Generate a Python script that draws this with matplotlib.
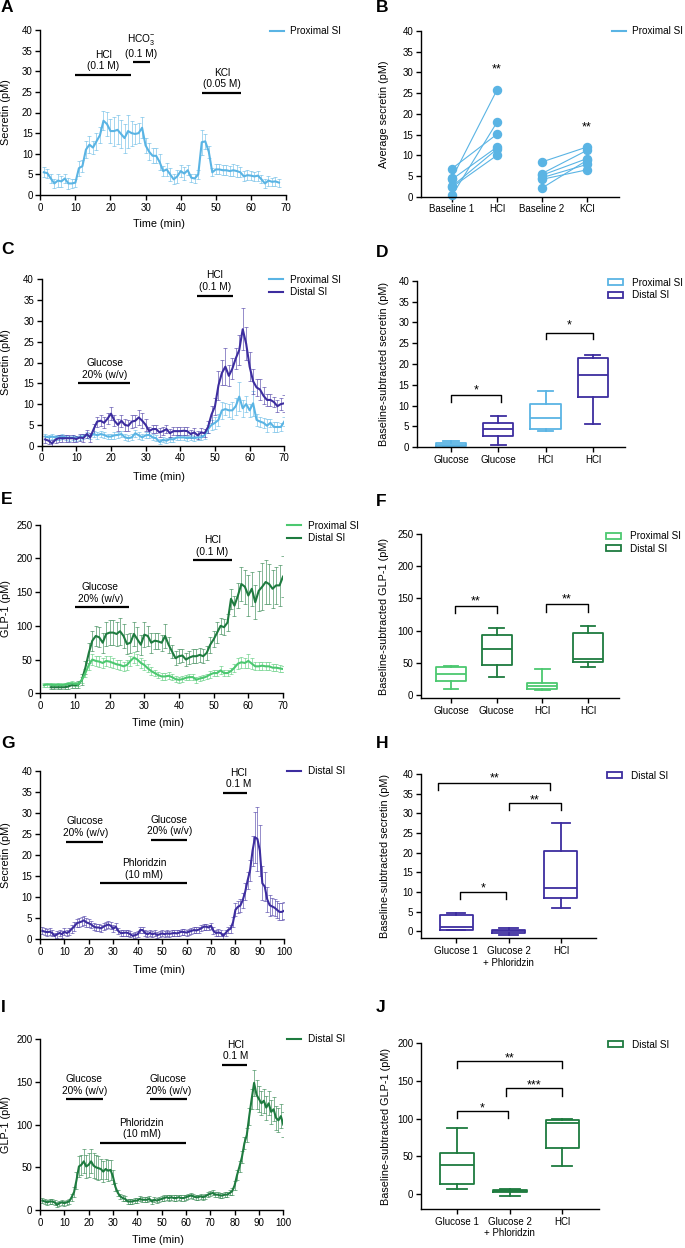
import numpy as np
import matplotlib
matplotlib.use("Agg")
import matplotlib.pyplot as plt
from matplotlib.lines import Line2D
from matplotlib.patches import Patch
from matplotlib.colors import to_rgba
from matplotlib.transforms import blended_transform_factory

plt.rcParams['font.family'] = ['Liberation Sans', 'DejaVu Sans']
plt.rcParams['mathtext.fontset'] = 'custom'
plt.rcParams['mathtext.rm'] = 'Liberation Sans'
plt.rcParams['mathtext.it'] = 'Liberation Sans:italic'
plt.rcParams['mathtext.bf'] = 'Liberation Sans:bold'
plt.rcParams['axes.linewidth'] = 1.0

# ---------------- DATA ----------------
# Panel A: proximal SI secretin, time 1..68 min
A_time = np.arange(1, 69)
A_prox = [5.5, 5.3, 4.0, 2.8, 3.5, 3.3, 4.0, 2.8, 2.8, 3.0,
          6.5, 7.0, 11.0, 12.2, 11.5, 13.0, 14.5, 18.0, 17.2, 15.5,
          15.5, 15.8, 14.8, 13.8, 15.5, 15.0, 14.8, 15.0, 16.3, 12.0,
          10.5, 9.5, 9.5, 8.0, 5.8, 6.2, 5.0, 3.8, 4.5, 5.8,
          5.2, 6.0, 4.2, 4.0, 5.0, 12.8, 13.0, 10.5, 5.5, 6.2,
          6.2, 6.0, 6.0, 5.8, 6.0, 5.8, 5.5, 4.5, 4.8, 4.7,
          4.5, 4.7, 3.8, 2.8, 3.5, 3.2, 3.3, 3.0]
A_prox_err = [1.2, 1.1, 1.0, 1.2, 1.5, 1.3, 1.0, 1.3, 1.2, 1.0,
              1.8, 1.5, 2.0, 2.0, 1.5, 2.0, 2.0, 2.3, 3.0, 3.0,
              3.5, 3.5, 3.5, 3.5, 4.0, 3.0, 2.5, 2.5, 2.5, 1.8,
              2.0, 1.8, 1.8, 2.0, 1.2, 1.5, 1.5, 1.2, 1.5, 1.5,
              1.5, 1.2, 1.0, 1.2, 1.0, 3.0, 1.8, 1.5, 1.0, 1.2,
              1.2, 1.2, 1.2, 1.2, 1.5, 1.5, 1.2, 1.2, 1.2, 1.0,
              1.0, 1.2, 1.0, 1.0, 1.2, 1.0, 1.0, 1.0]

# Panel B: paired average secretin
B_categories = ["Baseline 1", "HCl", "Baseline 2", "KCl"]
B_baseline1 = [6.8, 4.5, 4.2, 2.5, 2.3, 0.3]
B_hcl = [15.1, 25.8, 12.0, 11.5, 10.0, 18.0]
B_baseline2 = [8.4, 5.6, 5.2, 4.6, 4.2, 2.1]
B_kcl = [12.0, 11.2, 9.2, 7.8, 6.5, 8.8]

# Panel C: secretin, proximal vs distal, time 1..70
C_time = np.arange(1, 71)
C_prox = [2.2, 2.0, 2.2, 2.0, 2.0, 2.2, 2.0, 1.8, 2.0, 1.8,
          2.0, 2.2, 2.5, 2.2, 2.8, 2.5, 2.8, 2.6, 2.2, 2.2,
          2.5, 2.6, 2.8, 2.0, 1.8, 2.0, 3.0, 2.5, 2.0, 2.5,
          2.6, 2.0, 1.8, 0.9, 1.4, 1.2, 1.6, 1.5, 2.0, 2.0,
          2.0, 1.8, 2.0, 1.8, 2.0, 2.0, 2.5, 4.0, 5.0, 5.5,
          6.2, 8.5, 8.8, 8.5, 8.5, 9.5, 11.8, 9.0, 10.0, 8.5,
          10.2, 6.2, 5.8, 5.5, 4.8, 5.5, 4.5, 4.5, 4.5, 5.8]
C_prox_err = [0.6, 0.6, 0.6, 0.6, 0.6, 0.6, 0.6, 0.6, 0.6, 0.6,
              0.6, 0.6, 0.7, 0.7, 0.8, 0.8, 0.8, 0.8, 0.7, 0.7,
              0.8, 0.8, 0.8, 0.7, 0.7, 0.7, 0.8, 0.8, 0.7, 0.7,
              0.8, 0.7, 0.7, 0.6, 0.6, 0.6, 0.6, 0.6, 0.6, 0.6,
              0.6, 0.6, 0.6, 0.6, 0.6, 0.6, 0.8, 1.0, 1.2, 1.5,
              1.5, 2.0, 1.5, 1.5, 2.0, 2.0, 3.5, 2.0, 2.0, 1.5,
              3.0, 1.5, 1.2, 1.2, 1.5, 1.0, 1.2, 1.2, 1.0, 1.0]
C_dist = [1.5, 1.2, 0.5, 1.5, 1.8, 1.8, 1.8, 1.8, 1.8, 1.6,
          2.0, 1.8, 2.8, 2.0, 4.0, 5.8, 6.0, 5.5, 6.5, 7.7,
          6.0, 5.0, 6.0, 5.0, 4.8, 5.8, 6.0, 6.8, 6.0, 5.0,
          3.5, 4.0, 4.0, 3.2, 3.5, 4.0, 3.0, 3.5, 3.5, 3.5,
          3.6, 3.5, 2.8, 3.2, 2.5, 3.2, 3.0, 4.5, 7.5, 9.5,
          14.5, 17.5, 19.0, 16.8, 18.5, 21.0, 23.0, 28.0, 24.5, 19.0,
          15.5, 14.0, 13.5, 12.0, 11.0, 11.0, 10.5, 9.5, 10.0, 10.2]
C_dist_err = [0.8, 0.8, 0.8, 0.8, 0.8, 0.8, 0.8, 0.8, 0.8, 0.8,
              0.9, 0.9, 1.0, 1.0, 1.2, 1.2, 1.3, 1.3, 1.3, 1.5,
              1.3, 1.5, 1.5, 1.5, 1.3, 1.5, 1.5, 1.8, 1.8, 1.5,
              1.0, 1.0, 1.0, 1.0, 1.0, 1.0, 1.0, 1.0, 1.0, 1.0,
              1.0, 1.0, 1.0, 1.0, 1.0, 1.0, 1.0, 1.5, 2.0, 2.0,
              3.5, 3.0, 4.5, 2.5, 2.5, 2.5, 3.5, 5.0, 4.0, 3.5,
              3.0, 2.0, 2.5, 2.0, 1.5, 1.5, 1.2, 1.5, 1.5, 2.0]

# Panel D: baseline-subtracted secretin boxes (whislo, q1, med, q3, whishi)
D_labels = ["Glucose", "Glucose", "HCl", "HCl"]
D_prox_glucose = [0.0, 0.3, 0.5, 1.0, 1.6]
D_dist_glucose = [0.6, 2.8, 4.3, 5.9, 7.6]
D_prox_hcl = [3.9, 4.4, 7.1, 10.5, 13.4]
D_dist_hcl = [5.7, 12.0, 17.3, 21.5, 22.1]

# Panel E: GLP-1, proximal (1..70) and distal (3..70)
E_prox_time = np.arange(1, 71)
E_prox = [12, 13, 13, 12, 13, 12, 13, 14, 15, 14,
          14, 20, 30, 42, 50, 48, 47, 45, 48, 47,
          45, 43, 42, 40, 42, 48, 53, 50, 45, 42,
          37, 33, 30, 27, 25, 25, 26, 24, 21, 20,
          21, 23, 24, 24, 20, 22, 23, 25, 28, 30,
          30, 34, 30, 30, 33, 38, 44, 46, 45, 48,
          44, 40, 40, 41, 40, 40, 38, 38, 37, 36]
E_prox_err = [3, 3, 3, 3, 3, 3, 3, 3, 3, 3,
              3, 4, 6, 8, 8, 8, 8, 8, 8, 8,
              7, 7, 7, 7, 7, 8, 8, 8, 7, 7,
              6, 6, 5, 5, 5, 5, 5, 5, 4, 4,
              4, 4, 4, 4, 4, 4, 4, 4, 5, 5,
              5, 6, 5, 5, 5, 6, 8, 8, 8, 10,
              8, 6, 6, 6, 6, 6, 5, 5, 5, 5]
E_dist_time = np.arange(3, 71)
E_dist = [9, 9, 9, 9, 9, 10, 12, 12,
          13, 20, 38, 60, 78, 85, 83, 75, 88, 90,
          90, 88, 92, 85, 73, 75, 88, 80, 72, 87,
          85, 75, 78, 77, 75, 85, 72, 62, 52, 55,
          56, 50, 53, 55, 55, 57, 55, 60, 72, 80,
          90, 100, 98, 105, 140, 130, 145, 162, 158, 145,
          155, 135, 152, 158, 165, 162, 155, 160, 160, 173]
E_dist_err = [3, 3, 3, 3, 3, 4, 4, 4,
              5, 8, 10, 15, 15, 15, 15, 15, 18, 18,
              18, 18, 20, 18, 15, 15, 18, 18, 15, 18,
              15, 15, 12, 12, 12, 18, 12, 10, 10, 10,
              10, 10, 10, 10, 10, 10, 10, 10, 12, 12,
              15, 12, 12, 12, 15, 15, 18, 25, 25, 30,
              25, 25, 30, 35, 32, 30, 28, 28, 30, 30]

# Panel F: baseline-subtracted GLP-1 boxes
F_labels = ["Glucose", "Glucose", "HCl", "HCl"]
F_prox_glucose = [9, 21, 32, 43, 45]
F_dist_glucose = [28, 47, 71, 93, 104]
F_prox_hcl = [7, 9, 13, 19, 40]
F_dist_hcl = [43, 51, 55, 96, 107]

# Panel G: distal secretin with phloridzin, time 1..100
G_time = np.arange(1, 101)
G_dist = [2.0, 1.8, 1.7, 1.8, 1.5, 0.8, 1.2, 1.5, 1.2, 1.8,
          1.5, 1.8, 2.5, 3.0, 3.8, 4.0, 4.2, 4.5, 4.0, 3.8,
          3.5, 3.0, 2.8, 2.8, 2.6, 3.0, 3.3, 3.5, 3.2, 2.5,
          3.0, 2.0, 1.5, 1.5, 1.6, 1.5, 1.2, 0.8, 1.0, 1.2,
          2.2, 2.2, 1.5, 1.2, 1.5, 1.2, 1.4, 1.0, 1.2, 1.4,
          1.2, 1.4, 1.3, 1.4, 1.5, 1.4, 1.6, 1.8, 1.7, 1.6,
          1.8, 2.0, 2.2, 2.1, 2.3, 2.6, 3.0, 3.0, 2.8, 3.2,
          2.0, 1.5, 1.6, 1.5, 0.8, 1.5, 2.2, 2.5, 4.0, 7.0,
          7.7, 8.0, 9.3, 11.3, 14.0, 16.4, 21.0, 24.2, 23.8, 21.0,
          13.3, 12.5, 9.5, 8.1, 7.8, 7.5, 7.0, 6.5, 6.5, 6.8]
G_dist_err = [0.8, 0.8, 0.8, 0.8, 0.8, 0.8, 0.8, 0.8, 0.8, 0.8,
              0.8, 0.8, 0.9, 1.0, 1.0, 1.0, 1.0, 1.0, 1.0, 1.0,
              0.9, 0.8, 0.8, 0.8, 0.8, 0.8, 0.8, 0.8, 0.8, 0.8,
              0.8, 0.7, 0.7, 0.7, 0.7, 0.7, 0.7, 0.7, 0.7, 0.7,
              0.7, 0.7, 0.7, 0.7, 0.7, 0.7, 0.7, 0.7, 0.7, 0.7,
              0.7, 0.7, 0.7, 0.7, 0.7, 0.7, 0.7, 0.7, 0.7, 0.7,
              0.7, 0.7, 0.7, 0.7, 0.7, 0.7, 0.7, 0.7, 0.7, 0.7,
              0.8, 0.8, 0.8, 0.8, 0.8, 0.8, 0.8, 1.0, 1.2, 1.5,
              1.5, 1.5, 1.8, 2.0, 2.0, 2.5, 3.5, 6.0, 7.5, 6.0,
              4.0, 3.5, 3.0, 2.5, 2.0, 2.0, 2.0, 2.0, 2.0, 2.0]

# Panel H: baseline-subtracted secretin boxes (distal)
H_labels = ["Glucose 1", "Glucose 2\n+ Phloridzin", "HCl"]
H_glucose1 = [0.4, 0.4, 1.2, 4.2, 4.6]
H_glucose2 = [-0.9, -0.5, 0.0, 0.4, 0.7]
H_hcl = [5.8, 8.4, 11.1, 20.5, 27.6]

# Panel I: distal GLP-1 with phloridzin, time 1..100
I_time = np.arange(1, 101)
I_dist = [11, 10, 9, 10, 10, 9, 6, 8, 9, 8,
          9, 10, 15, 21, 35, 51, 53, 57, 51, 53,
          57, 52, 50, 49, 48, 45, 48, 46, 47, 39,
          27, 20, 16, 14, 13, 10, 10, 10, 11, 11,
          13, 12, 12, 12, 13, 10, 12, 11, 12, 13,
          14, 15, 14, 15, 14, 14, 15, 14, 14, 15,
          16, 17, 16, 15, 15, 16, 15, 16, 18, 19,
          20, 18, 18, 17, 17, 18, 18, 20, 22, 29,
          41, 51, 62, 78, 88, 110, 130, 149, 135, 130,
          125, 128, 120, 125, 115, 118, 108, 105, 110, 100]
I_dist_err = [3, 3, 3, 3, 3, 3, 3, 3, 3, 3,
              3, 3, 4, 6, 10, 12, 12, 14, 14, 14,
              14, 15, 14, 14, 12, 12, 12, 12, 12, 8,
              5, 4, 3, 3, 3, 3, 3, 3, 3, 3,
              3, 3, 3, 3, 3, 3, 3, 3, 3, 3,
              3, 3, 3, 3, 3, 3, 3, 3, 3, 3,
              3, 3, 3, 3, 3, 3, 3, 3, 3, 3,
              3, 3, 3, 3, 3, 3, 3, 3, 4, 5,
              6, 6, 7, 7, 8, 10, 12, 15, 17, 15,
              14, 14, 14, 14, 14, 14, 14, 14, 14, 15]

# Panel J: baseline-subtracted GLP-1 boxes (distal)
J_labels = ["Glucose 1", "Glucose 2\n+ Phloridzin", "HCl"]
J_glucose1 = [7, 13, 38, 55, 87]
J_glucose2 = [-3, 2, 3.5, 5, 6]
J_hcl = [37, 61, 94, 98, 100]

# ---------------- STYLE ----------------
LB = '#5AB4E4'
PU = '#3D2D9F'
LG = '#4CC870'
DG = '#1E7B3F'

W, H = 685, 1248
fig = plt.figure(figsize=(W / 100, H / 100), dpi=100)

TICK = 7
LAB = 7.8
ANN = 7.3
LEG = 7.2


def fx(px):
    return px / W


def fy(py):
    return 1 - py / H


def make_ax(l, t, r, b):
    ax = fig.add_axes([fx(l), fy(b), (r - l) / W, (b - t) / H])
    ax.spines['top'].set_visible(False)
    ax.spines['right'].set_visible(False)
    ax.tick_params(direction='out', length=3.5, width=1.0, labelsize=TICK, pad=2)
    return ax


def ylab(ax, text, xpx):
    ax.set_ylabel(text, fontsize=LAB)
    ax.yaxis.set_label_coords(fx(xpx), 0.5,
                              transform=blended_transform_factory(fig.transFigure, ax.transAxes))


def xlab(ax, text, xpx, ypx):
    ax.set_xlabel(text, fontsize=LAB)
    ax.xaxis.set_label_coords(fx(xpx), fy(ypx), transform=fig.transFigure)


def letter(ch, xpx, ypx):
    fig.text(fx(xpx), fy(ypx), ch, fontsize=12.5, fontweight='bold', ha='left', va='top')


def series(ax, t, v, e, c, z=2):
    ax.errorbar(t, v, yerr=e, fmt='-', color=c, lw=1.5, ecolor=to_rgba(c, 0.55),
                elinewidth=0.7, capsize=1.3, capthick=0.7, zorder=z)


def bar_label(ax, x0, x1, y, text, xc=None):
    ax.plot([x0, x1], [y, y], color='k', lw=1.6, solid_capstyle='butt', clip_on=False)
    if xc is None:
        xc = (x0 + x1) / 2
    ax.annotate(text, (xc, y), xytext=(0, 2.5), textcoords='offset points',
                ha='center', va='bottom', fontsize=ANN, linespacing=1.2)


def bracket(ax, x0, x1, y, drop, text, ty):
    ax.plot([x0, x0, x1, x1], [y - drop, y, y, y - drop], color='k', lw=1.0, clip_on=False)
    ax.annotate(text, ((x0 + x1) / 2, ty), xytext=(0, -2.5), textcoords='offset points',
                ha='center', va='center', fontsize=9)


def line_legend(ax, labels, colors, xpx, ypx):
    handles = [Line2D([0], [0], color=c, lw=1.5) for c in colors]
    ax.legend(handles, labels, loc='center left', bbox_to_anchor=(fx(xpx), fy(ypx)),
              bbox_transform=fig.transFigure, frameon=False, fontsize=LEG,
              handlelength=1.35, handletextpad=0.7, borderpad=0, borderaxespad=0,
              labelspacing=0.25)


def box_legend(ax, labels, colors, xpx, ypx):
    handles = [Patch(facecolor='white', edgecolor=c, lw=1.3) for c in colors]
    ax.legend(handles, labels, loc='center left', bbox_to_anchor=(fx(xpx), fy(ypx)),
              bbox_transform=fig.transFigure, frameon=False, fontsize=LEG,
              handlelength=1.5, handleheight=0.55, handletextpad=0.9, borderpad=0,
              borderaxespad=0, labelspacing=0.25)


def boxes(ax, stats_list, positions, colors, width, capw):
    for s, p, c in zip(stats_list, positions, colors):
        st = dict(whislo=s[0], q1=s[1], med=s[2], q3=s[3], whishi=s[4], fliers=[])
        pr = dict(color=c, lw=1.3)
        ax.bxp([st], positions=[p], widths=width, capwidths=capw, showfliers=False,
               boxprops=pr, whiskerprops=pr, capprops=pr, medianprops=pr,
               manage_ticks=False)


# ---------------- PANEL A ----------------
ax = make_ax(40.3, 30, 286, 195)
series(ax, A_time, A_prox, A_prox_err, LB)
ax.set_xlim(0, 70)
ax.set_ylim(0, 40)
ax.set_xticks(range(0, 71, 10))
ax.set_yticks(range(0, 41, 5))
bar_label(ax, 9.9, 25.8, 29.1, "HCl\n(0.1 M)", 17.9)
bar_label(ax, 26.3, 31.2, 32.2, "HCO$_3^{-}$\n(0.1 M)", 28.8)
bar_label(ax, 46.2, 57.2, 24.8, "KCl\n(0.05 M)", 51.7)
ylab(ax, "Secretin (pM)", 11)
xlab(ax, "Time (min)", 159, 219)
line_legend(ax, ["Proximal SI"], [LB], 270, 31)
letter("A", 1, 0)

# ---------------- PANEL B ----------------
ax = make_ax(421, 31, 619, 196.7)
for a, b in zip(B_baseline1, B_hcl):
    ax.plot([0, 1], [a, b], color=LB, lw=0.8, marker='o', ms=5.8, clip_on=False)
for a, b in zip(B_baseline2, B_kcl):
    ax.plot([2, 3], [a, b], color=LB, lw=0.8, marker='o', ms=5.8, clip_on=False)
ax.set_xlim(-0.69, 3.71)
ax.set_ylim(0, 40)
ax.set_xticks(range(4))
ax.set_xticklabels(B_categories)
ax.set_yticks(range(0, 41, 5))
ax.text(1, 30.8, "**", ha='center', va='center', fontsize=9)
ax.text(3, 16.6, "**", ha='center', va='center', fontsize=9)
ylab(ax, "Average secretin (pM)", 389)
line_legend(ax, ["Proximal SI"], [LB], 612, 31)
letter("B", 376, 0)

# ---------------- PANEL C ----------------
ax = make_ax(41.7, 279.3, 284.3, 445.7)
series(ax, C_time, C_prox, C_prox_err, LB)
series(ax, C_time, C_dist, C_dist_err, PU)
ax.set_xlim(0, 70)
ax.set_ylim(0, 40)
ax.set_xticks(range(0, 71, 10))
ax.set_yticks(range(0, 41, 5))
bar_label(ax, 10.6, 25.5, 15.0, "Glucose\n20% (w/v)", 18.3)
bar_label(ax, 44.7, 55.1, 36.1, "HCl\n(0.1 M)", 50)
ylab(ax, "Secretin (pM)", 11)
xlab(ax, "Time (min)", 159, 472)
line_legend(ax, ["Proximal SI", "Distal SI"], [LB, PU], 269, 286)
letter("C", 1, 242)

# ---------------- PANEL D ----------------
ax = make_ax(417, 280.7, 625, 447.3)
boxes(ax, [D_prox_glucose, D_dist_glucose, D_prox_hcl, D_dist_hcl], [0, 1, 2, 3],
      [LB, PU, LB, PU], 0.64, 0.32)
ax.set_xlim(-0.72, 3.68)
ax.set_ylim(0, 40)
ax.set_xticks(range(4))
ax.set_xticklabels(D_labels)
ax.set_yticks(range(0, 41, 5))
bracket(ax, 0, 1.05, 12.5, 1.6, "*", 14.5)
bracket(ax, 2, 3, 27.4, 1.4, "*", 30.2)
ylab(ax, "Baseline-subtracted secretin (pM)", 389)
box_legend(ax, ["Proximal SI", "Distal SI"], [LB, PU], 608, 289)
letter("D", 376, 245)

# ---------------- PANEL E ----------------
ax = make_ax(40.3, 524.7, 283, 693.3)
series(ax, E_dist_time, E_dist, E_dist_err, DG)
series(ax, E_prox_time, E_prox, E_prox_err, LG)
ax.set_xlim(0, 70)
ax.set_ylim(0, 250)
ax.set_xticks(range(0, 71, 10))
ax.set_yticks(range(0, 251, 50))
bar_label(ax, 10.1, 25.7, 127.5, "Glucose\n20% (w/v)", 17.3)
bar_label(ax, 44.1, 55.2, 197.6, "HCl\n(0.1 M)", 49.6)
ylab(ax, "GLP-1 (pM)", 11)
xlab(ax, "Time (min)", 158, 718)
line_legend(ax, ["Proximal SI", "Distal SI"], [LG, DG], 287, 532)
letter("E", 1, 492)

# ---------------- PANEL F ----------------
ax = make_ax(421, 534.3, 619, 698.3)
boxes(ax, [F_prox_glucose, F_dist_glucose, F_prox_hcl, F_dist_hcl], [0, 1, 2, 3],
      [LG, DG, LG, DG], 0.66, 0.32)
ax.set_xlim(-0.66, 3.68)
ax.set_ylim(-5.6, 250)
ax.set_xticks(range(4))
ax.set_xticklabels(F_labels)
ax.set_yticks(range(0, 251, 50))
bracket(ax, 0.09, 1, 138, 11, "**", 150)
bracket(ax, 2.07, 3, 141, 12, "**", 154)
ylab(ax, "Baseline-subtracted GLP-1 (pM)", 389)
box_legend(ax, ["Proximal SI", "Distal SI"], [LG, DG], 606, 542.5)
letter("F", 376, 494)

# ---------------- PANEL G ----------------
ax = make_ax(40, 770.7, 284.3, 939.3)
series(ax, G_time, G_dist, G_dist_err, PU)
ax.set_xlim(0, 100)
ax.set_ylim(0, 40)
ax.set_xticks(range(0, 101, 10))
ax.set_yticks(range(0, 41, 5))
bar_label(ax, 10.6, 25.6, 23.2, "Glucose\n20% (w/v)", 18.5)
bar_label(ax, 45.3, 60.3, 23.6, "Glucose\n20% (w/v)", 52.9)
bar_label(ax, 24.6, 60.0, 13.3, "Phloridzin\n(10 mM)", 42.7)
bar_label(ax, 74.8, 84.6, 34.8, "HCl\n0.1 M", 81.3)
ylab(ax, "Secretin (pM)", 11)
xlab(ax, "Time (min)", 159, 965)
line_legend(ax, ["Distal SI"], [PU], 287, 771)
letter("G", 1, 736)

# ---------------- PANEL H ----------------
ax = make_ax(421, 774, 596, 938.3)
boxes(ax, [H_glucose1, H_glucose2, H_hcl], [0, 1, 2], [PU, PU, PU], 0.63, 0.35)
ax.set_xlim(-0.67, 2.67)
ax.set_ylim(-1.8, 40)
ax.set_xticks(range(3))
ax.set_xticklabels(H_labels)
ax.set_yticks(range(0, 41, 5))
bracket(ax, -0.34, 1.8, 37.8, 1.9, "**", 39.7)
bracket(ax, 1, 2, 32.7, 1.9, "**", 34.2)
bracket(ax, 0.08, 0.96, 9.9, 1.8, "*", 11.7)
ylab(ax, "Baseline-subtracted secretin (pM)", 390)
box_legend(ax, ["Distal SI"], [PU], 607, 776)
letter("H", 376, 736)

# ---------------- PANEL I ----------------
ax = make_ax(40, 1039.3, 283.3, 1210)
series(ax, I_time, I_dist, I_dist_err, DG)
ax.set_xlim(0, 100)
ax.set_ylim(0, 200)
ax.set_xticks(range(0, 101, 10))
ax.set_yticks(range(0, 201, 50))
bar_label(ax, 10.7, 25.8, 129.7, "Glucose\n20% (w/v)", 18.2)
bar_label(ax, 45.2, 60.3, 130, "Glucose\n20% (w/v)", 52.7)
bar_label(ax, 24.7, 60.0, 78.9, "Phloridzin\n(10 mM)", 41.8)
bar_label(ax, 74.9, 84.9, 170, "HCl\n0.1 M", 80.3)
ylab(ax, "GLP-1 (pM)", 11)
xlab(ax, "Time (min)", 158, 1235)
line_legend(ax, ["Distal SI"], [DG], 287, 1039)
letter("I", 1, 1000)

# ---------------- PANEL J ----------------
ax = make_ax(421, 1043.3, 599.3, 1209)
boxes(ax, [J_glucose1, J_glucose2, J_hcl], [0, 1, 2], [DG, DG, DG], 0.64, 0.38)
ax.set_xlim(-0.69, 2.70)
ax.set_ylim(-20, 200)
ax.set_xticks(range(3))
ax.set_xticklabels(J_labels)
ax.set_yticks(range(0, 201, 50))
bracket(ax, 0, 2, 177, 10, "**", 184)
bracket(ax, 0.92, 2, 140, 10, "***", 149)
bracket(ax, 0, 0.96, 110.6, 9.6, "*", 118)
ylab(ax, "Baseline-subtracted GLP-1 (pM)", 391)
box_legend(ax, ["Distal SI"], [DG], 608, 1045)
letter("J", 376, 1000)

fig.savefig("out.png", dpi=100)
